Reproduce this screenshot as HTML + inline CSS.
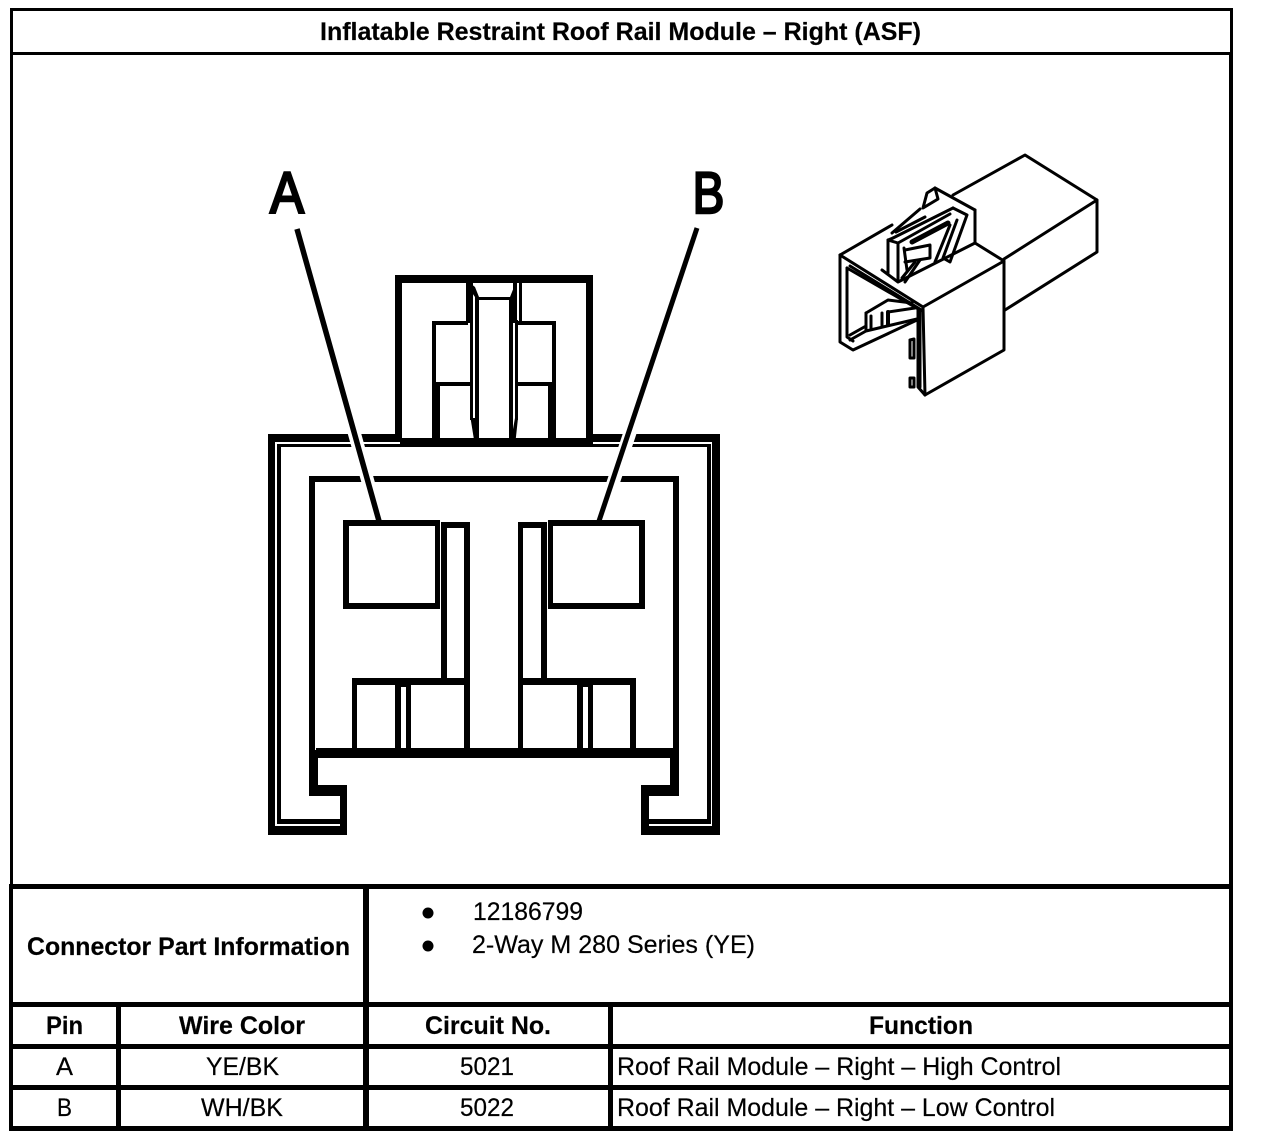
<!DOCTYPE html>
<html lang="en">
<head>
<meta charset="utf-8">
<title>Inflatable Restraint Roof Rail Module – Right (ASF)</title>
<style>
html,body{margin:0;padding:0;background:#fff;width:1264px;height:1144px;overflow:hidden}
svg{display:block}
text{font-family:"Liberation Sans",Arial,sans-serif;font-size:25px;fill:#000;stroke:#000;stroke-width:.2}
.b{font-weight:bold}
.r rect,.r polygon{fill:#000}
.r rect{shape-rendering:crispEdges}
.iso polyline{fill:none;stroke:#000;stroke-width:3;stroke-linejoin:round;stroke-linecap:round}
</style>
</head>
<body>
<svg width="1264" height="1144" viewBox="0 0 1264 1144" xmlns="http://www.w3.org/2000/svg">
<rect width="1264" height="1144" fill="#fff"/>

<!-- table frame -->
<g class="r">
<rect x="10" y="8" width="1223" height="3"/>
<rect x="10" y="52" width="1223" height="3"/>
<rect x="10" y="8" width="3" height="880"/>
<rect x="9" y="884" width="4" height="247"/>
<rect x="1230" y="8" width="3" height="47"/>
<rect x="1229" y="52" width="4" height="1079"/>
<rect x="9" y="884" width="1224" height="5"/>
<rect x="9" y="1002" width="1224" height="5"/>
<rect x="9" y="1044" width="1224" height="5"/>
<rect x="9" y="1085" width="1224" height="5"/>
<rect x="9" y="1126" width="1224" height="5"/>
<rect x="363" y="884" width="6" height="247"/>
<rect x="116" y="1002" width="5" height="129"/>
<rect x="608" y="1002" width="5" height="129"/>
</g>

<!-- table text -->
<text class="b" x="320" y="40" textLength="601" lengthAdjust="spacingAndGlyphs">Inflatable Restraint Roof Rail Module – Right (ASF)</text>
<text class="b" x="27" y="955" textLength="323" lengthAdjust="spacingAndGlyphs">Connector Part Information</text>
<circle cx="428" cy="913" r="5.5"/>
<circle cx="428" cy="946" r="5.5"/>
<text x="473" y="920" textLength="110" lengthAdjust="spacingAndGlyphs">12186799</text>
<text x="472" y="953" textLength="283" lengthAdjust="spacingAndGlyphs">2-Way M 280 Series (YE)</text>
<text class="b" x="46" y="1034" textLength="37" lengthAdjust="spacingAndGlyphs">Pin</text>
<text class="b" x="179" y="1034" textLength="126" lengthAdjust="spacingAndGlyphs">Wire Color</text>
<text class="b" x="425" y="1034" textLength="126" lengthAdjust="spacingAndGlyphs">Circuit No.</text>
<text class="b" x="869" y="1034" textLength="104" lengthAdjust="spacingAndGlyphs">Function</text>
<text x="56" y="1075" textLength="17" lengthAdjust="spacingAndGlyphs">A</text>
<text x="206" y="1075" textLength="73" lengthAdjust="spacingAndGlyphs">YE/BK</text>
<text x="460" y="1075" textLength="54" lengthAdjust="spacingAndGlyphs">5021</text>
<text x="617" y="1075" textLength="444" lengthAdjust="spacingAndGlyphs">Roof Rail Module – Right – High Control</text>
<text x="57" y="1116" textLength="15" lengthAdjust="spacingAndGlyphs">B</text>
<text x="201" y="1116" textLength="82" lengthAdjust="spacingAndGlyphs">WH/BK</text>
<text x="460" y="1116" textLength="54" lengthAdjust="spacingAndGlyphs">5022</text>
<text x="617" y="1116" textLength="438" lengthAdjust="spacingAndGlyphs">Roof Rail Module – Right – Low Control</text>

<!-- main connector -->
<g class="r">
<!-- outer shell -->
<rect x="268" y="434" width="7" height="401"/>
<rect x="277" y="444" width="4" height="380"/>
<rect x="268" y="434" width="132" height="8"/>
<rect x="277" y="444" width="430" height="3"/>
<rect x="400" y="438" width="193" height="9"/>
<rect x="590" y="434" width="130" height="8"/>
<rect x="712" y="434" width="8" height="401"/>
<rect x="707" y="444" width="4" height="380"/>
<rect x="268" y="826" width="79" height="9"/>
<rect x="277" y="819" width="63" height="5"/>
<rect x="340" y="785" width="7" height="50"/>
<rect x="641" y="826" width="79" height="9"/>
<rect x="649" y="819" width="62" height="5"/>
<rect x="641" y="785" width="8" height="50"/>
<!-- inner frame -->
<rect x="309" y="476" width="370" height="6"/>
<rect x="309" y="476" width="6" height="275"/>
<rect x="673" y="476" width="6" height="275"/>
<rect x="316" y="748" width="357" height="10"/>
<rect x="309" y="750" width="9" height="46"/>
<rect x="309" y="785" width="38" height="11"/>
<rect x="670" y="748" width="9" height="48"/>
<rect x="641" y="785" width="38" height="11"/>
<!-- pin boxes -->
<rect x="343" y="520" width="97" height="6"/>
<rect x="343" y="603" width="97" height="6"/>
<rect x="343" y="520" width="6" height="89"/>
<rect x="435" y="520" width="5" height="89"/>
<rect x="548" y="520" width="97" height="6"/>
<rect x="548" y="603" width="97" height="6"/>
<rect x="548" y="520" width="5" height="89"/>
<rect x="639" y="520" width="6" height="89"/>
<!-- slots -->
<rect x="441" y="522" width="29" height="6"/>
<rect x="441" y="522" width="6" height="160"/>
<rect x="464" y="522" width="6" height="227"/>
<rect x="518" y="522" width="29" height="6"/>
<rect x="541" y="522" width="6" height="160"/>
<rect x="518" y="522" width="5" height="227"/>
<!-- lower blocks -->
<rect x="352" y="678" width="118" height="7"/>
<rect x="518" y="678" width="118" height="7"/>
<rect x="352" y="678" width="5" height="71"/>
<rect x="395" y="678" width="6" height="71"/>
<rect x="406" y="678" width="5" height="71"/>
<rect x="401" y="685" width="5" height="2"/>
<rect x="577" y="678" width="6" height="71"/>
<rect x="588" y="678" width="5" height="71"/>
<rect x="583" y="685" width="5" height="2"/>
<rect x="630" y="678" width="6" height="71"/>
<!-- top lock -->
<rect x="395" y="275" width="198" height="8"/>
<rect x="395" y="275" width="7" height="165"/>
<rect x="586" y="275" width="7" height="165"/>
<rect x="432" y="321" width="36" height="4"/>
<rect x="432" y="321" width="4" height="65"/>
<rect x="432" y="382" width="38" height="4"/>
<rect x="432" y="384" width="8" height="56"/>
<rect x="518" y="321" width="38" height="4"/>
<rect x="552" y="321" width="4" height="65"/>
<rect x="518" y="382" width="38" height="4"/>
<rect x="548" y="384" width="8" height="56"/>
<rect x="466" y="283" width="7" height="40"/>
<rect x="470" y="320" width="3" height="100"/>
<rect x="475" y="297" width="4" height="150"/>
<rect x="479" y="297" width="31" height="3"/>
<rect x="509" y="297" width="4" height="150"/>
<rect x="515" y="320" width="3" height="100"/>
<rect x="513" y="283" width="4" height="40"/>
<rect x="519" y="283" width="3" height="40"/>
<polygon points="470,283 475,287 479,297 475,297 470,290"/>
<polygon points="517,283 514,287 510,297 513,297 517,290"/>
<polygon points="470.5,418 475,418 479,446 475,446"/>
<polygon points="515,418 518,418 515,446 510,446"/>
</g>

<!-- leaders -->
<line x1="345" y1="400" x2="372" y2="496" stroke="#fff" stroke-width="13"/>
<line x1="641" y1="400" x2="610" y2="492" stroke="#fff" stroke-width="13"/>
<line x1="297" y1="229" x2="379" y2="521" stroke="#000" stroke-width="5.5"/>
<line x1="697" y1="228" x2="599" y2="521" stroke="#000" stroke-width="5"/>
<text transform="translate(287,213) scale(.88,1)" text-anchor="middle" style="font-size:58px;stroke:#000;stroke-width:2.5">A</text>
<text transform="translate(708.5,213) scale(.82,1)" text-anchor="middle" style="font-size:58px;stroke:#000;stroke-width:2.5">B</text>

<!-- isometric connector -->
<g class="iso">
<polyline points="953,195 1025,155 1097,200 1097,252 1005,310"/>
<polyline points="1097,200 1004,259"/>
<polyline points="840,255 892,225"/>
<polyline points="840,255 923,307 1004,261 975,243"/>
<polyline points="975,210 975,243"/>
<polyline points="923,307 925,395 1004,350 1004,261"/>
<polyline points="840,255 840,342 853,350 917,320"/>
<polyline points="847,268 847,337 853,341"/>
<polyline points="847,268 920,310"/>
<polyline points="850,266 923,311"/>
<polyline points="918,310 918,387 925,395"/>
<polyline points="920,310 920,387"/>
<polyline points="910,340 914,339 914,358 910,358 910,340"/>
<polyline points="910,378 914,378 914,387 910,387 910,378"/>
<polyline points="850,340 866,331 917,319"/>
<polyline points="850,335 866,326"/>
<polyline points="866,313 866,330"/>
<polyline points="871,316 871,328"/>
<polyline points="866,313 888,300 912,303"/>
<polyline points="882,313 882,326"/>
<polyline points="888,312 888,325" style="stroke-width:4"/>
<polyline points="888,312 915,308"/>
<polyline points="935,188 975,210"/>
<polyline points="935,188 927,193 923,208 938,199 935,188"/>
<polyline points="892,233 920,209"/>
<polyline points="896,232 925,217"/>
<polyline points="893,238 953,208"/>
<polyline points="898,243 950,214"/>
<polyline points="888,240 888,273"/>
<polyline points="893,238 888,240 898,243"/>
<polyline points="898,243 898,281"/>
<polyline points="882,270 898,282 975,243"/>
<polyline points="953,208 967,215 950,262 943,258 957,220"/>
<polyline points="905,250 930,245 930,258 905,262"/>
<polyline points="904,248 907,270"/>
<polyline points="920,260 905,282"/>
<polyline points="915,262 902,278"/>
<polyline points="948,223 912,242" style="stroke-width:5"/>
<polyline points="950,225 935,262"/>
</g>
</svg>
</body>
</html>
